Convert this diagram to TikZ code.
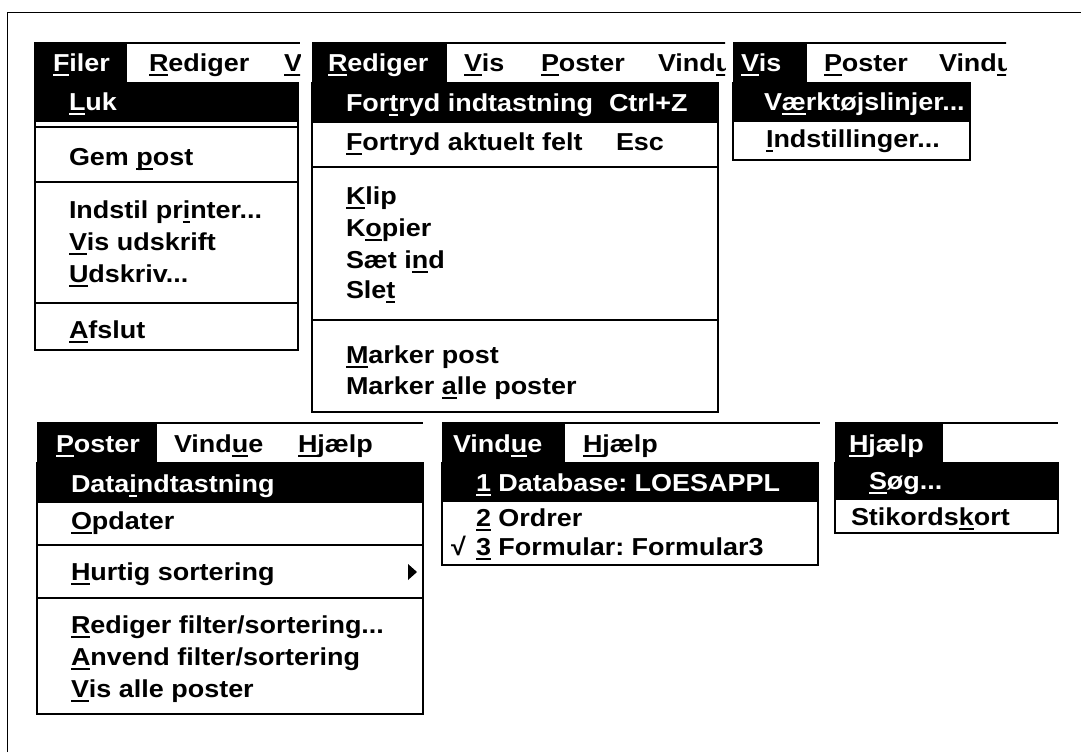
\documentclass[tikz,border=0pt]{standalone}
\usepackage{fontspec}
\setmainfont[FakeStretch=1.1]{Liberation Sans}
\usetikzlibrary{positioning}
\frenchspacing
% underlined mnemonic letter
\newcommand\mn[1]{\setbox0\hbox{#1}\rlap{\rule[-4pt]{\wd0}{1.6pt}}\box0\relax}

\begin{document}
\begin{tikzpicture}[x=1pt, y=-1pt, line width=2pt,
    item/.style={anchor=base west, inner sep=0pt, yshift=-8.5pt,
      font=\fontsize{24.5}{28}\selectfont\bfseries},
    itemw/.style={item, text=white},
    box/.style={draw, line width=2pt}]
  \useasboundingbox (0,0) rectangle (1081,752);
  \draw[line width=1pt] (7,752) -- (7,13) -- (1081,13);

  % Filer
  \begin{scope}
    \clip (33,41) rectangle (300,84);
    \fill (34,43) rectangle (127,83);
    \draw (34,43) -- (300,43);
    \node[itemw] (fFiler) at (52,63) {\mn{F}iler};
    \node[item] (fRed) at (148,63) {\mn{R}ediger};
    \node[item] (fVis) at (283,63) {\mn{V}};
  \end{scope}
  \draw[box] (35,83) rectangle (298,350);
  \fill (35,83) rectangle (298,122);
  \draw (35,127) -- (298,127);
  \draw (35,182) -- (298,182);
  \draw (35,303) -- (298,303);
  \node[itemw] (fLuk) at (68,102) {\mn{L}uk};
  \node[item] (fGem) at (68,157) {Gem \mn{p}ost};
  \node[item] (fPrn) at (68,210) {Indstil pr\mn{i}nter...};
  \node[item] (fVisud) at (68,242) {\mn{V}is udskrift};
  \node[item] (fUdskr) at (68,274) {\mn{U}dskriv...};
  \node[item] (fAfs) at (68,330) {\mn{A}fslut};

  % Rediger
  \begin{scope}
    \clip (311,41) rectangle (725,84);
    \fill (312,43) rectangle (447,83);
    \draw (312,43) -- (727,43);
    \node[itemw] (rRed) at (327,63) {\mn{R}ediger};
    \node[item] (rVis) at (463,63) {\mn{V}is};
    \node[item] (rPost) at (540,63) {\mn{P}oster};
    \node[item] (rVind) at (657,63) {Vind\mn{u}};
  \end{scope}
  \draw[box] (312,83) rectangle (718,412);
  \fill (312,83) rectangle (718,123);
  \draw (312,167) -- (718,167);
  \draw (312,320) -- (718,320);
  \node[itemw] (rFortI) at (345,103) {For\mn{t}ryd indtastning};
  \node[itemw] (rCtrl) at (608,103) {Ctrl+Z};
  \node[item] (rFortA) at (345,142) {\mn{F}ortryd aktuelt felt};
  \node[item] (rEsc) at (615,142) {Esc};
  \node[item] (rKlip) at (345,196) {\mn{K}lip};
  \node[item] (rKop) at (345,228) {K\mn{o}pier};
  \node[item] (rSaet) at (345,260) {Sæt i\mn{n}d};
  \node[item] (rSlet) at (345,290) {Sle\mn{t}};
  \node[item] (rMark) at (345,355) {\mn{M}arker post};
  \node[item] (rMarkA) at (345,386) {Marker \mn{a}lle poster};

  % Vis
  \begin{scope}
    \clip (732,41) rectangle (1006,84);
    \fill (733,43) rectangle (807,83);
    \draw (733,43) -- (1008,43);
    \node[itemw] (vVis) at (740,63) {\mn{V}is};
    \node[item] (vPost) at (823,63) {\mn{P}oster};
    \node[item] (vVind) at (938,63) {Vind\mn{u}};
  \end{scope}
  \draw[box] (733,83) rectangle (970,160);
  \fill (733,83) rectangle (970,122);
  \node[itemw] (vVaerk) at (763,102) {V\mn{æ}rktøjslinjer...};
  \node[item] (vIndst) at (765,139) {\mn{I}ndstillinger...};

  % Poster
  \fill (37,423) rectangle (157,463);
  \draw (37,423) -- (423,423);
  \node[itemw] (pPost) at (55,444) {\mn{P}oster};
  \node[item] (pVind) at (173,444) {Vind\mn{u}e};
  \node[item] (pHjlp) at (297,444) {\mn{H}jælp};
  \draw[box] (37,463) rectangle (423,714);
  \fill (37,463) rectangle (423,503);
  \draw (37,545) -- (423,545);
  \draw (37,598) -- (423,598);
  \node[itemw] (pData) at (70,484) {Data\mn{i}ndtastning};
  \node[item] (pOpd) at (70,521) {\mn{O}pdater};
  \node[item] (pHurt) at (70,572) {\mn{H}urtig sortering};
  \fill (408,564) -- (417,572) -- (408,580) -- cycle;
  \node[item] (pRedF) at (70,625) {\mn{R}ediger filter/sortering...};
  \node[item] (pAnv) at (70,657) {\mn{A}nvend filter/sortering};
  \node[item] (pVisA) at (70,689) {\mn{V}is alle poster};

  % Vindue
  \fill (442,423) rectangle (565,463);
  \draw (442,423) -- (820,423);
  \node[itemw] (wVind) at (452,444) {Vind\mn{u}e};
  \node[item] (wHjlp) at (582,444) {\mn{H}jælp};
  \draw[box] (442,463) rectangle (818,565);
  \fill (442,463) rectangle (818,502);
  \node[itemw] (wDb) at (475,483) {\mn{1} Database: LOESAPPL};
  \node[item] (wOrd) at (475,518) {\mn{2} Ordrer};
  \node[item] (wChk) at (450,547) {√};
  \node[item] (wForm) at (475,547) {\mn{3} Formular: Formular3};

  % Hjaelp
  \fill (835,423) rectangle (943,463);
  \draw (835,423) -- (1058,423);
  \node[itemw] (hHjlp) at (848,444) {\mn{H}jælp};
  \draw[box] (835,463) rectangle (1058,533);
  \fill (835,463) rectangle (1058,500);
  \node[itemw] (hSoeg) at (868,481) {\mn{S}øg...};
  \node[item] (hStik) at (850,517) {Stikords\mn{k}ort};
\end{tikzpicture}
\end{document}
